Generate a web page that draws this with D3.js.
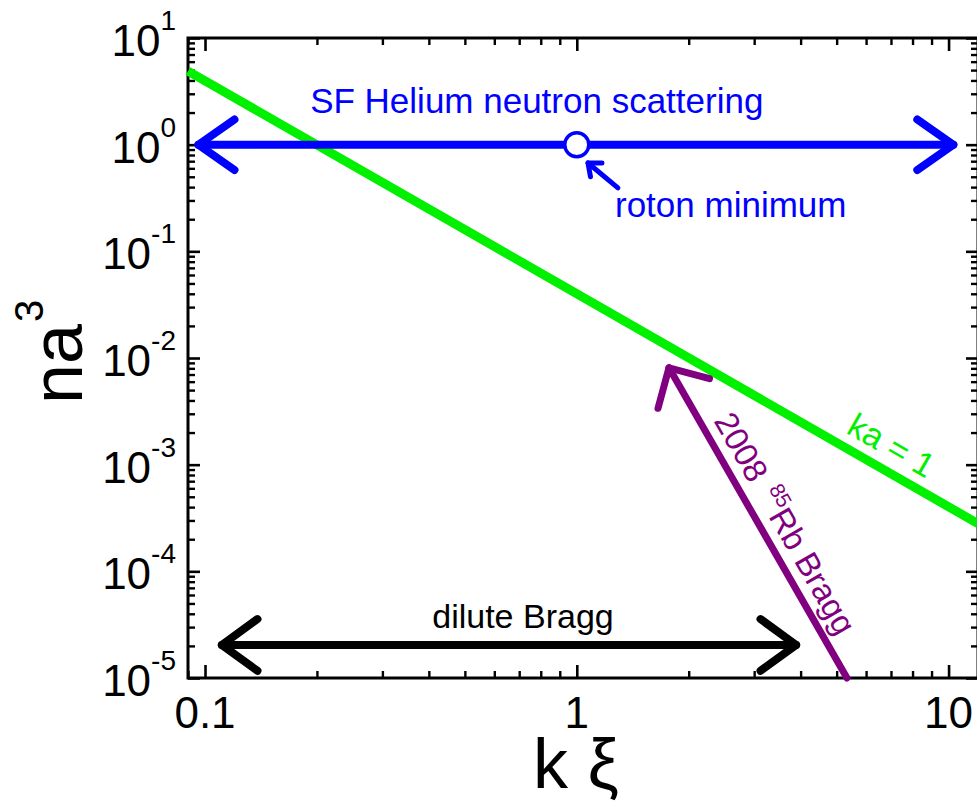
<!DOCTYPE html>
<html><head><meta charset="utf-8">
<script src="https://cdn.jsdelivr.net/npm/d3@7"></script>
<style>
html,body{margin:0;padding:0;background:#fff;}
svg{display:block;font-family:"Liberation Sans",Arial,Helvetica,sans-serif;}
</style></head><body>
<svg id="chart" width="977" height="803"></svg>
<script>
// Axis extents and ticks
const xDomain = [0.09, 12];
const yDomain = [1e-5, 10];
const xMajorTicks = [0.1, 1, 10];
const xTickLabels = ["0.1", "1", "10"];
const yMajorTicks = [1e-5, 1e-4, 1e-3, 1e-2, 1e-1, 1, 10];
const yTickExponents = ["-5", "-4", "-3", "-2", "-1", "0", "1"];

// ka = 1 boundary
const kaLineX = [0.09, 12];
const kaLineY = [4.9, 2.8e-4];
const kaLabelAt = [6.5];

// superfluid helium neutron scattering range
const heliumX = [0.096, 10.3];
const heliumY = [1, 1];
const rotonX = [1];
const rotonY = [1];
const rotonPointerX = [1.29, 1.072];
const rotonPointerY = [0.393, 0.673];

// dilute Bragg range
const diluteX = [0.111, 3.89];
const diluteY = [2.04e-5, 2.04e-5];

// 2008 85Rb Bragg path (tail, head)
const rbX = [5.33, 1.77];
const rbY = [1e-5, 8.1e-3];

const margin = {left: 188, right: 978, top: 38, bottom: 678};

const svg = d3.select("#chart");
const x = d3.scaleLog().domain(xDomain).range([margin.left, margin.right]);
const y = d3.scaleLog().domain(yDomain).range([margin.bottom, margin.top]);

const isMajor = v => Math.abs(Math.log10(v) - Math.round(Math.log10(v))) < 1e-9;
const xMinor = x.ticks().filter(v => !isMajor(v));
const yMinor = y.ticks().filter(v => !isMajor(v));

// ---- axes (ticks point inward on all four sides)
function styleAxis(g, w) {
  g.select(".domain").remove();
  g.selectAll(".tick line").attr("stroke", "#000").attr("stroke-width", w);
  g.selectAll(".tick text").remove();
}
const axes = svg.append("g");
const plotH = margin.bottom - margin.top, plotW = margin.right - margin.left;
[[d3.axisBottom, margin.bottom], [d3.axisTop, margin.top]].forEach(([ax, pos]) => {
  axes.append("g").attr("transform", `translate(0,${pos})`)
    .call(ax(x).tickValues(xMajorTicks).tickSize(-13).tickSizeOuter(0)).call(g => styleAxis(g, 2.6));
  axes.append("g").attr("transform", `translate(0,${pos})`)
    .call(ax(x).tickValues(xMinor).tickSize(-7).tickSizeOuter(0)).call(g => styleAxis(g, 2.4));
});
[[d3.axisLeft, margin.left], [d3.axisRight, margin.right]].forEach(([ax, pos]) => {
  axes.append("g").attr("transform", `translate(${pos},0)`)
    .call(ax(y).tickValues(yMajorTicks).tickSize(-12).tickSizeOuter(0)).call(g => styleAxis(g, 2.6));
  axes.append("g").attr("transform", `translate(${pos},0)`)
    .call(ax(y).tickValues(yMinor).tickSize(-7).tickSizeOuter(0)).call(g => styleAxis(g, 2.4));
});
axes.append("rect")
  .attr("x", margin.left).attr("y", margin.top)
  .attr("width", plotW).attr("height", plotH)
  .attr("fill", "none").attr("stroke", "#000").attr("stroke-width", 3);

// ---- tick labels
const xl = svg.append("g").attr("font-size", 44).attr("text-anchor", "middle");
xMajorTicks.forEach((v, i) => {
  xl.append("text").attr("x", x(v)).attr("y", margin.bottom + 50).text(xTickLabels[i]);
});
const yl = svg.append("g").attr("font-size", 44).attr("text-anchor", "end");
yMajorTicks.forEach((v, i) => {
  const t = yl.append("text").attr("x", 176).attr("y", y(v) + 18);
  t.append("tspan").text("10");
  t.append("tspan").attr("font-size", 28).attr("dy", -26).text(yTickExponents[i]);
});

// ---- axis titles
svg.append("text").attr("x", 533).attr("y", 788).attr("font-size", 70).text("k ξ");
const yt = svg.append("text").attr("transform", "translate(82,404) rotate(-90)").attr("font-size", 72);
yt.append("tspan").text("na");
yt.append("tspan").attr("font-size", 40).attr("dy", -39).attr("dx", 2).text("3");

// ---- helpers
const line = d3.line();
function chevron(tip, from, len, angleDeg) {
  const dx = from[0] - tip[0], dy = from[1] - tip[1];
  const n = Math.hypot(dx, dy), ux = dx / n, uy = dy / n;
  const a = angleDeg * Math.PI / 180;
  const r = s => [tip[0] + len * (ux * Math.cos(s * a) - uy * Math.sin(s * a)),
                  tip[1] + len * (ux * Math.sin(s * a) + uy * Math.cos(s * a))];
  return [r(1), tip, r(-1)];
}
function drawArrow(g, pts, color, width, headLen, headAngle, bothEnds) {
  g.append("path").attr("d", line(pts)).attr("stroke", color).attr("stroke-width", width)
    .attr("fill", "none").attr("stroke-linecap", "round");
  const heads = [[pts[pts.length - 1], pts[pts.length - 2]]];
  if (bothEnds) heads.push([pts[0], pts[1]]);
  heads.forEach(([tip, from]) => {
    g.append("path").attr("d", line(chevron(tip, from, headLen, headAngle)))
      .attr("stroke", color).attr("stroke-width", width).attr("fill", "none")
      .attr("stroke-linecap", "round").attr("stroke-linejoin", "round");
  });
}
const marks = svg.append("g");

// ka = 1 line with its label laid along it
const green = "#00f000";
const kaPts = kaLineX.map((v, i) => [x(v), y(kaLineY[i])]);
marks.append("path").attr("d", line(kaPts)).attr("stroke", green).attr("stroke-width", 9).attr("fill", "none");
{
  const ang = Math.atan2(kaPts[1][1] - kaPts[0][1], kaPts[1][0] - kaPts[0][0]);
  const px = x(kaLabelAt[0]);
  const py = kaPts[0][1] + (px - kaPts[0][0]) * Math.tan(ang);
  const off = 13;
  const tx = px + off * Math.sin(ang), ty = py - off * Math.cos(ang);
  marks.append("text").attr("transform", `translate(${tx},${ty}) rotate(${ang * 180 / Math.PI})`)
    .attr("text-anchor", "middle").attr("font-size", 34).attr("fill", green).text("ka = 1");
}

// helium range
const hePts = heliumX.map((v, i) => [x(v), y(heliumY[i])]);
drawArrow(marks, hePts, "#0000ff", 8, 44, 35, true);
marks.append("text").attr("x", x(1) - 40).attr("y", 113).attr("text-anchor", "middle")
  .attr("font-size", 35).attr("fill", "#0000ff").text("SF Helium neutron scattering");
marks.append("circle").attr("cx", x(rotonX[0])).attr("cy", y(rotonY[0])).attr("r", 12)
  .attr("fill", "#fff").attr("stroke", "#0000ff").attr("stroke-width", 3.5);
const rpPts = rotonPointerX.map((v, i) => [x(v), y(rotonPointerY[i])]);
drawArrow(marks, rpPts, "#0000ff", 5, 14, 40, false);
marks.append("text").attr("x", 615).attr("y", 217).attr("font-size", 35).attr("fill", "#0000ff").text("roton minimum");

// dilute Bragg range
const dbPts = diluteX.map((v, i) => [x(v), y(diluteY[i])]);
drawArrow(marks, dbPts, "#000", 8, 44, 36, true);
marks.append("text").attr("x", (dbPts[0][0] + dbPts[1][0]) / 2 + 14).attr("y", 628).attr("text-anchor", "middle")
  .attr("font-size", 34).attr("fill", "#000").text("dilute Bragg");

// 85Rb Bragg
const rbPts = rbX.map((v, i) => [x(v), y(rbY[i])]);
drawArrow(marks, rbPts, "#800080", 7, 42, 45, false);
{
  const tip = rbPts[1], tail = rbPts[0];
  const dx = tail[0] - tip[0], dy = tail[1] - tip[1], n = Math.hypot(dx, dy);
  const ux = dx / n, uy = dy / n;
  const along = 68, off = 12;
  const tx = tip[0] + along * ux + off * uy, ty = tip[1] + along * uy - off * ux;
  const t = marks.append("text").attr("transform", `translate(${tx},${ty}) rotate(${Math.atan2(dy, dx) * 180 / Math.PI})`)
    .attr("font-size", 33).attr("fill", "#800080");
  t.append("tspan").text("2008 ");
  t.append("tspan").attr("font-size", 21).attr("dy", -14).attr("dx", 4).text("85");
  t.append("tspan").attr("dy", 14).text("Rb Bragg");
}
</script>
</body></html>
